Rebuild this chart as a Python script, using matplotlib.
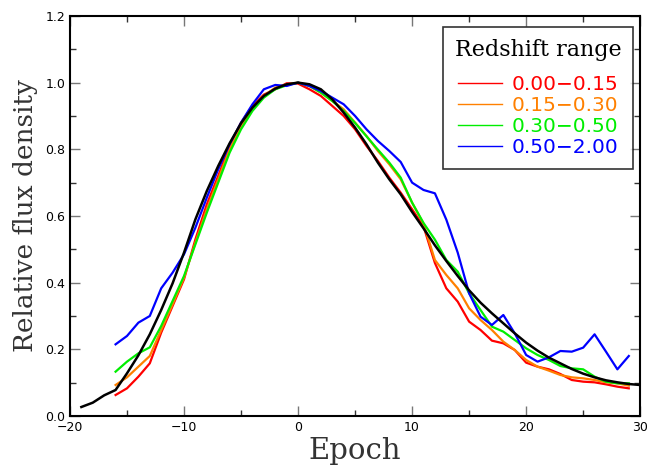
import numpy as np
import matplotlib.pyplot as plt
from matplotlib.lines import Line2D
from matplotlib.ticker import MultipleLocator

# Epochs and light-curve values
epoch = list(range(-16, 30))
red = [0.063, 0.083, 0.118, 0.158, 0.250, 0.330, 0.410, 0.530, 0.635, 0.720,
       0.810, 0.880, 0.930, 0.964, 0.980, 0.998, 0.997, 0.980, 0.960, 0.930,
       0.900, 0.860, 0.810, 0.765, 0.715, 0.670, 0.620, 0.569, 0.459, 0.383,
       0.343, 0.283, 0.258, 0.226, 0.218, 0.198, 0.160, 0.148, 0.140, 0.126,
       0.108, 0.103, 0.101, 0.095, 0.088, 0.083]
orange = [0.093, 0.116, 0.148, 0.180, 0.258, 0.335, 0.415, 0.520, 0.620, 0.710,
          0.800, 0.870, 0.920, 0.960, 0.985, 0.995, 1.000, 0.990, 0.970, 0.945,
          0.920, 0.880, 0.840, 0.795, 0.755, 0.710, 0.640, 0.577, 0.468, 0.423,
          0.383, 0.323, 0.288, 0.258, 0.223, 0.198, 0.168, 0.148, 0.136, 0.123,
          0.116, 0.113, 0.108, 0.101, 0.098, 0.091]
green = [0.133, 0.163, 0.188, 0.206, 0.270, 0.345, 0.420, 0.515, 0.610, 0.700,
         0.790, 0.860, 0.915, 0.955, 0.980, 0.992, 1.000, 0.990, 0.970, 0.945,
         0.915, 0.879, 0.839, 0.799, 0.760, 0.715, 0.640, 0.579, 0.529, 0.468,
         0.433, 0.368, 0.318, 0.268, 0.253, 0.228, 0.203, 0.183, 0.168, 0.150,
         0.143, 0.140, 0.118, 0.103, 0.098, 0.098]
blue = [0.215, 0.240, 0.280, 0.300, 0.383, 0.430, 0.485, 0.565, 0.655, 0.740,
        0.815, 0.880, 0.935, 0.980, 0.993, 0.990, 1.000, 0.990, 0.975, 0.955,
        0.935, 0.900, 0.860, 0.825, 0.795, 0.762, 0.700, 0.678, 0.668, 0.589,
        0.490, 0.368, 0.298, 0.273, 0.303, 0.248, 0.183, 0.163, 0.176, 0.195,
        0.193, 0.205, 0.245, 0.193, 0.140, 0.180]

# Template curve (black)
tmpl_epoch = list(range(-19, 31))
tmpl = [0.027, 0.040, 0.062, 0.078, 0.128, 0.182, 0.245, 0.318, 0.398, 0.490,
        0.590, 0.675, 0.750, 0.818, 0.878, 0.925, 0.960, 0.982, 0.995, 1.000,
        0.995, 0.980, 0.950, 0.910, 0.865, 0.815, 0.760, 0.710, 0.665, 0.612,
        0.563, 0.512, 0.465, 0.420, 0.377, 0.340, 0.308, 0.278, 0.248, 0.220,
        0.196, 0.175, 0.158, 0.141, 0.127, 0.116, 0.107, 0.101, 0.096, 0.093]

labels = ["0.00\u22120.15", "0.15\u22120.30", "0.30\u22120.50", "0.50\u22122.00"]
colors = ["#ff0000", "#ff8000", "#00ee00", "#0000ff"]

fig = plt.figure(figsize=(6.6, 4.69), dpi=100)
ax = fig.add_axes([0.106, 0.113, 0.864, 0.853])

for ys, c in zip([red, orange, green, blue], colors):
    ax.plot(epoch, ys, color=c, lw=1.6)
ax.plot(tmpl_epoch, tmpl, color="black", lw=1.8)

ax.set_xlim(-20, 30)
ax.set_ylim(0, 1.2)
ax.xaxis.set_major_locator(MultipleLocator(10))
ax.xaxis.set_minor_locator(MultipleLocator(5))
ax.yaxis.set_major_locator(MultipleLocator(0.2))
ax.yaxis.set_minor_locator(MultipleLocator(0.1))
ax.yaxis.set_major_formatter(plt.FuncFormatter(lambda v, p: "%.1f" % v))
ax.tick_params(which="both", direction="in", top=True, right=True,
               labelsize=9, color="#777777")
ax.tick_params(which="major", length=7, width=1)
ax.tick_params(which="minor", length=4, width=1, color="#333333")
for s in ax.spines.values():
    s.set_linewidth(1.5)

ax.set_xlabel("Epoch", family="DejaVu Serif", fontsize=21, color="#333333",
              labelpad=2)
ax.set_ylabel("Relative flux density", family="DejaVu Serif", fontsize=19,
              color="#333333", labelpad=5)

handles = [Line2D([], [], color=c, lw=1) for c in colors]
leg = ax.legend(handles, labels, loc="upper right", title="Redshift range",
                fontsize=14.5, handlelength=2.2, handletextpad=0.45,
                labelspacing=0.1, borderpad=0.6, fancybox=False,
                edgecolor="black", bbox_to_anchor=(0.988, 0.972),
                borderaxespad=0)
leg.get_frame().set_linewidth(1.2)
leg.get_title().set_fontfamily("DejaVu Serif")
leg.get_title().set_fontsize(16)
leg._legend_box.align = "center"
leg._legend_box.sep = 10
for t, c in zip(leg.get_texts(), colors):
    t.set_color(c)

fig.savefig("out.png", dpi=100)
